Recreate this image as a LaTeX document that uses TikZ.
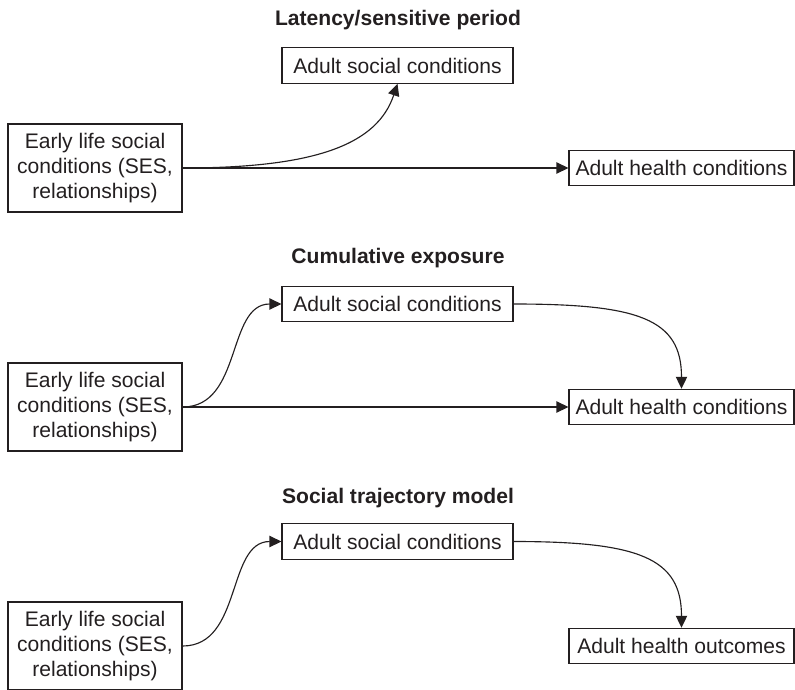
\documentclass[tikz,border=0pt]{standalone}
\usepackage{fontspec}
\setmainfont{Liberation Sans}
\usetikzlibrary{arrows.meta}

\definecolor{ink}{RGB}{35,31,32}
\tikzset{every picture/.style={line width=0.85pt}}
\tikzset{
  txt/.style={font=\fontsize{15.8}{18.8}\selectfont, text=ink},
  ttl/.style={font=\fontsize{15.8}{18.8}\selectfont\bfseries, text=ink, inner sep=0pt, anchor=base},
  sbox/.style={draw=ink, txt, minimum width=173.25pt, minimum height=26.5pt, inner sep=0pt},
  hbox/.style={draw=ink, txt, minimum width=168.75pt, minimum height=26.5pt, inner sep=0pt},
  ebox/.style={draw=ink, txt, minimum width=130.5pt, minimum height=66pt, inner sep=0pt, align=center},
  link/.style={draw=ink, -{Triangle[length=9pt,width=8.5pt]}},
}

\begin{document}
\begin{tikzpicture}[x=0.75pt,y=0.75pt,yscale=-1,xscale=1]
    \useasboundingbox (0,0) rectangle (795,689);

    % Text Node
    \node[ttl] (ttl1) at (398,25) {Latency/sensitive period};
    %Shape: Rectangle
    \node[sbox] (soc1) at (397.5,65.5) {Adult social conditions};
    \node[ebox] (early1) at (95,168) {Early life social\\conditions (SES,\\relationships)};
    \node[hbox] (hlth1) at (681.5,168) {Adult health conditions};
    %Curve Lines
    \draw[link] (early1.east) .. controls +(135,0) and +(-20,60) .. (soc1.south);
    \draw[link] (early1.east) -- (hlth1.west);

    % Text Node
    \node[ttl] (ttl2) at (398,263) {Cumulative exposure};
    %Shape: Rectangle
    \node[sbox] (soc2) at (397.5,304) {Adult social conditions};
    \node[ebox] (early2) at (95,407) {Early life social\\conditions (SES,\\relationships)};
    \node[hbox] (hlth2) at (681.5,407) {Adult health conditions};
    %Curve Lines
    \draw[link] (early2.east) .. controls +(60,0) and +(-55,0) .. (soc2.west);
    \draw[link] (soc2.east) .. controls +(125,0) and +(0,-70) .. (hlth2.north);
    \draw[link] (early2.east) -- (hlth2.west);

    % Text Node
    \node[ttl] (ttl3) at (398,503) {Social trajectory model};
    %Shape: Rectangle
    \node[sbox] (soc3) at (397.5,541.5) {Adult social conditions};
    \node[ebox] (early3) at (95,646) {Early life social\\conditions (SES,\\relationships)};
    \node[hbox] (hlth3) at (681.5,646) {Adult health outcomes};
    %Curve Lines
    \draw[link] (early3.east) .. controls +(60,0) and +(-55,0) .. (soc3.west);
    \draw[link] (soc3.east) .. controls +(125,0) and +(0,-70) .. (hlth3.north);

\end{tikzpicture}
\end{document}
